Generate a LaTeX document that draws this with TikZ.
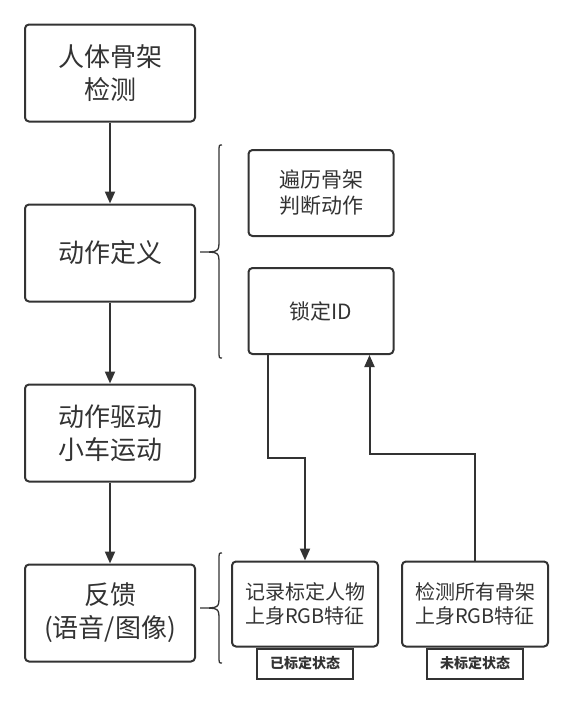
\documentclass[tikz,border=0pt]{standalone}
\usepackage{fontspec}
\setmainfont{Noto Sans CJK SC}
\usepackage{xcolor}
\usetikzlibrary{arrows.meta, positioning}
\definecolor{mygray}{RGB}{51, 51, 51}

\begin{document}
\begin{tikzpicture}[
  x=1pt, y=-1pt,
  node distance=81pt,
  bigbox/.style={rectangle, rounded corners=4pt, draw=mygray, line width=2pt,
                 minimum width=170pt, minimum height=97pt, align=center,
                 text=mygray, font=\fontsize{26}{33}\selectfont},
  smallbox/.style={rectangle, rounded corners=4pt, draw=mygray, line width=2pt,
                   minimum width=145pt, minimum height=86pt, align=center,
                   text=mygray, font=\fontsize{21}{26}\selectfont},
  recbox/.style={rectangle, rounded corners=4pt, draw=mygray, line width=2pt,
                 minimum width=146pt, minimum height=85pt, align=center,
                 text=mygray, font=\fontsize{20}{24}\selectfont},
  tagbox/.style={rectangle, draw=mygray, line width=2pt,
                 minimum width=96pt, minimum height=30pt, inner sep=0pt,
                 text=mygray, font=\fontsize{14}{16}\selectfont\bfseries},
  arrow/.style={-{Triangle[length=12pt, width=10pt]}, line width=2pt, mygray},
  curly/.style={line width=1.3pt, mygray}
]
  \useasboundingbox (0,0) rectangle (570,702);

  % main column
  \node[bigbox] (det) at (110,73) {人体骨架\\检测};
  \node[bigbox, below=of det] (def) {动作定义};
  \node[bigbox, below=of def] (drv) {动作驱动\\小车运动};
  \node[bigbox, below=of drv] (fb)  {反馈\\(语音/图像)};

  \draw[arrow] (det) -- (def);
  \draw[arrow] (def) -- (drv);
  \draw[arrow] (drv) -- (fb);

  % action definition details
  \node[smallbox] (trav) at (321,193) {遍历骨架\\判断动作};
  \node[smallbox, below=30pt of trav] (lock) {锁定ID};
  \draw[curly] (222,145) .. controls (219,145) .. (219,152) -- (219,240)
    .. controls (219,252) .. (200,252) .. controls (219,252) .. (219,264)
    -- (219,351) .. controls (219,358) .. (222,358);

  % feedback details
  \node[recbox] (rec)  at (305,604) {记录标定人物\\上身RGB特征};
  \node[recbox, right=22pt of rec] (scan) {检测所有骨架\\上身RGB特征};
  \node[tagbox, anchor=north] (tagA) at (rec.south)  {已标定状态};
  \node[tagbox, anchor=north] (tagB) at (scan.south) {未标定状态};
  \draw[curly] (222,553) .. controls (219,553) .. (219,560) -- (219,596)
    .. controls (219,608) .. (200,608) .. controls (219,608) .. (219,620)
    -- (219,656) .. controls (219,663) .. (222,663);

  \draw[arrow] ([xshift=20pt]lock.south west) -- ++(0,103) -| (rec.north);
  \draw[arrow] (scan.north) -- ++(0,-107) -| ([xshift=-25pt]lock.south east);
\end{tikzpicture}
\end{document}
